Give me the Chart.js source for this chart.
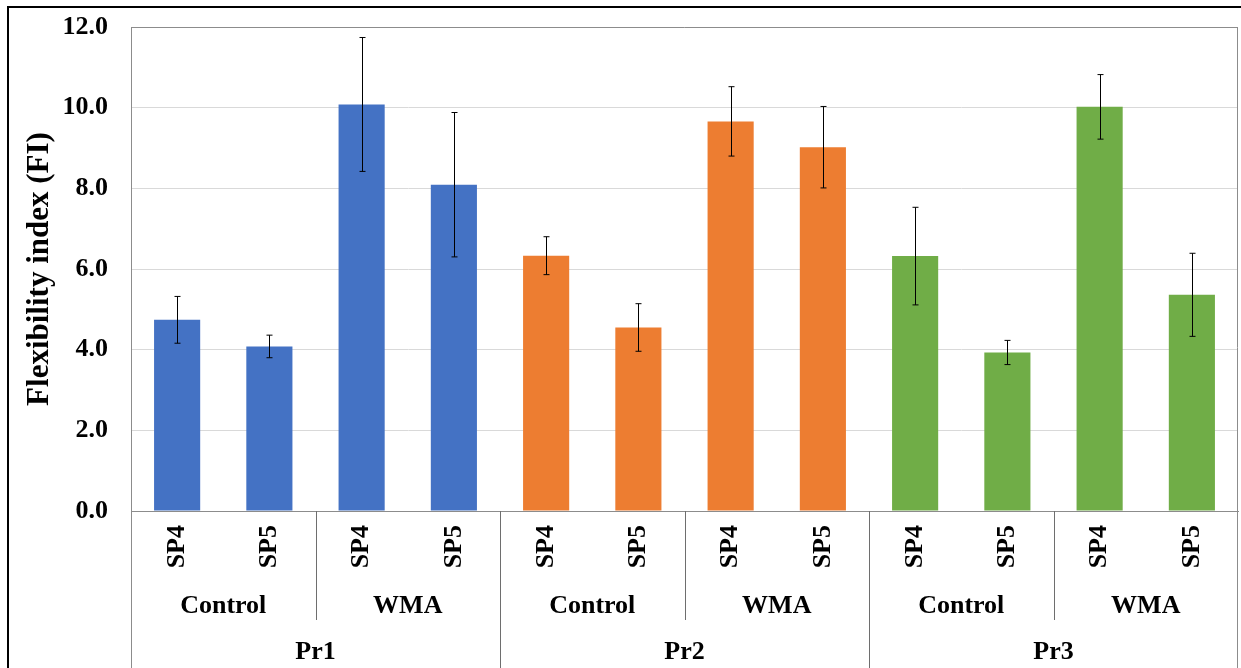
<!DOCTYPE html>
<html>
<head>
<meta charset="utf-8">
<script src="https://cdn.jsdelivr.net/npm/chart.js@4"></script>
<style>
  html, body { margin: 0; padding: 0; background: #ffffff; }
  #wrap { width: 1241px; height: 668px; position: relative; }
</style>
</head>
<body>
<div id="wrap"><canvas id="fiChart"></canvas></div>
<script>
// data
const categories = ['SP4', 'SP5', 'SP4', 'SP5', 'SP4', 'SP5', 'SP4', 'SP5', 'SP4', 'SP5', 'SP4', 'SP5'];
const mixGroups = ['Control', 'WMA', 'Control', 'WMA', 'Control', 'WMA'];
const projects = ['Pr1', 'Pr2', 'Pr3'];
const fiValues = [4.74, 4.08, 10.08, 8.09, 6.33, 4.55, 9.66, 9.02, 6.32, 3.93, 10.02, 5.36];
const fiErrors = [0.58, 0.28, 1.66, 1.79, 0.47, 0.59, 0.86, 1.01, 1.21, 0.30, 0.80, 1.03];
const yTicks = [0, 2, 4, 6, 8, 10, 12];

const projectColors = ['#4472C4', '#ED7D31', '#70AD47'];
const barColors = categories.map((c, i) => projectColors[Math.floor(i / 4)]);

const axisGray = '#8c8c8c';
const labelFont = '"Liberation Serif", "Times New Roman", serif';

// error bars, drawn through the y scale
const errorBars = {
  id: 'errorBars',
  afterDatasetsDraw(chart) {
    const ctx = chart.ctx;
    const meta = chart.getDatasetMeta(0);
    const y = chart.scales.y;
    ctx.save();
    ctx.strokeStyle = '#000000';
    ctx.lineWidth = 1;
    meta.data.forEach((bar, i) => {
      const x = Math.round(bar.x) + 0.5;
      const top = y.getPixelForValue(fiValues[i] + fiErrors[i]);
      const bot = y.getPixelForValue(fiValues[i] - fiErrors[i]);
      ctx.beginPath();
      ctx.moveTo(x, top); ctx.lineTo(x, bot);
      ctx.moveTo(x - 3, top); ctx.lineTo(x + 3, top);
      ctx.moveTo(x - 3, bot); ctx.lineTo(x + 3, bot);
      ctx.stroke();
    });
    ctx.restore();
  }
};

// second and third rows of the category axis, plus frame lines
const multiLevel = {
  id: 'multiLevel',
  afterDraw(chart) {
    const ctx = chart.ctx;
    const xs = chart.scales.x;
    const area = chart.chartArea;
    const step = (area.right - area.left) / categories.length;
    const edge = k => Math.round(area.left + k * step) + 0.5;
    const H = chart.height;

    ctx.save();
    ctx.lineWidth = 1;

    // plot frame
    ctx.strokeStyle = axisGray;
    ctx.beginPath();
    ctx.moveTo(edge(0), Math.round(area.top) + 0.5);
    ctx.lineTo(Math.round(area.right) - 0.5, Math.round(area.top) + 0.5);
    ctx.moveTo(edge(0), area.top);
    ctx.lineTo(edge(0), H);
    ctx.moveTo(Math.round(area.right) - 0.5, area.top);
    ctx.lineTo(Math.round(area.right) - 0.5, H);
    ctx.stroke();

    // separators
    ctx.strokeStyle = '#6e6e6e';
    ctx.beginPath();
    for (let k = 2; k < categories.length; k += 4) {
      ctx.moveTo(edge(k), area.bottom);
      ctx.lineTo(edge(k), 620);
    }
    for (let k = 4; k < categories.length; k += 4) {
      ctx.moveTo(edge(k), area.bottom);
      ctx.lineTo(edge(k), H);
    }
    ctx.stroke();

    // group labels
    ctx.fillStyle = '#000000';
    ctx.textAlign = 'center';
    ctx.textBaseline = 'middle';
    ctx.font = 'bold 26px ' + labelFont;
    mixGroups.forEach((g, i) => {
      const cx = (xs.getPixelForValue(i * 2) + xs.getPixelForValue(i * 2 + 1)) / 2;
      ctx.fillText(g, cx, 606);
    });
    projects.forEach((p, i) => {
      const cx = (xs.getPixelForValue(i * 4 + 1) + xs.getPixelForValue(i * 4 + 2)) / 2;
      ctx.fillText(p, cx, 652);
    });

    // outer figure frame
    ctx.strokeStyle = '#000000';
    ctx.lineWidth = 2;
    ctx.beginPath();
    ctx.moveTo(8, H);
    ctx.lineTo(8, 7);
    ctx.lineTo(chart.width, 7);
    ctx.stroke();
    ctx.restore();
  }
};

const ctx = document.getElementById('fiChart').getContext('2d');
new Chart(ctx, {
  type: 'bar',
  data: {
    labels: categories,
    datasets: [{
      label: 'Flexibility index (FI)',
      data: fiValues,
      backgroundColor: barColors,
      categoryPercentage: 1.0,
      barPercentage: 0.5
    }]
  },
  options: {
    responsive: true,
    maintainAspectRatio: false,
    animation: false,
    layout: { padding: { left: 0, top: 27, right: 3, bottom: 0 } },
    plugins: {
      legend: { display: false },
      tooltip: { enabled: false }
    },
    scales: {
      y: {
        min: 0,
        max: 12,
        afterFit(scale) {
          scale.width = 131;
          scale.paddingTop = 0;
          scale.paddingBottom = 0;
        },
        afterBuildTicks(scale) { scale.ticks = yTicks.map(v => ({ value: v })); },
        ticks: {
          color: '#000000',
          padding: 23,
          font: { family: labelFont, size: 26, weight: 'bold' },
          callback: v => Number(v).toFixed(1)
        },
        grid: { color: '#d9d9d9', drawTicks: false },
        border: { display: true, color: axisGray },
        title: {
          display: true,
          text: 'Flexibility index (FI)',
          color: '#000000',
          padding: { top: 21, bottom: 0 },
          font: { family: labelFont, size: 31, weight: 'bold' }
        }
      },
      x: {
        afterFit(scale) { scale.height = 157; },
        ticks: {
          color: '#000000',
          minRotation: 90,
          maxRotation: 90,
          autoSkip: false,
          padding: 14,
          font: { family: labelFont, size: 26, weight: 'bold' }
        },
        grid: { display: false, drawTicks: false },
        border: { display: true, color: axisGray }
      }
    }
  },
  plugins: [errorBars, multiLevel]
});
</script>
</body>
</html>
